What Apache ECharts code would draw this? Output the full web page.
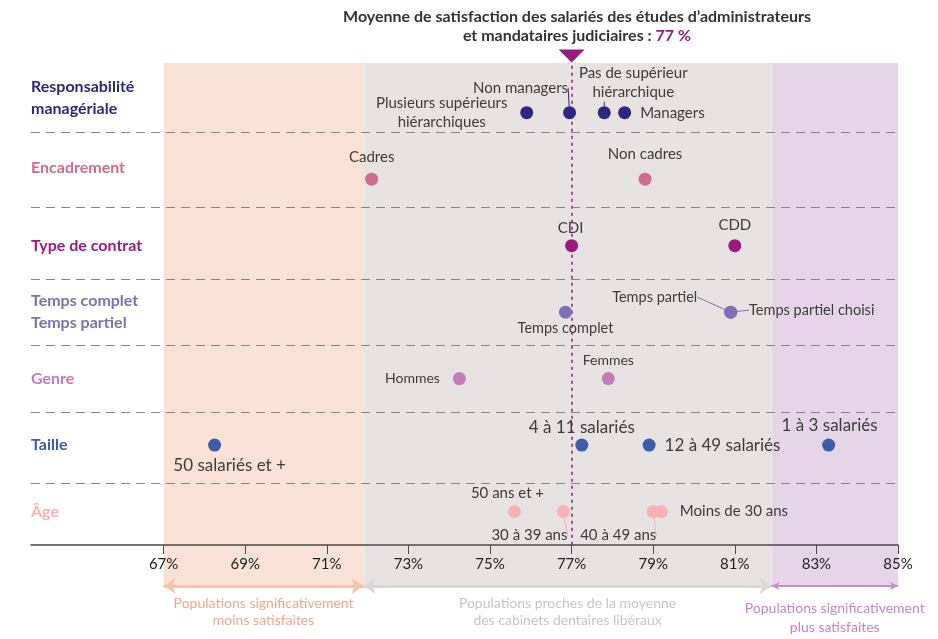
<!DOCTYPE html>
<html lang="fr">
<head>
<meta charset="UTF-8">
<title>Satisfaction des salariés</title>
<script src="https://cdn.jsdelivr.net/npm/echarts@6/dist/echarts.min.js"></script>
<style>
  body, html { margin: 0; padding: 0; background: #fff; }
  #main { width: 938px; height: 639px; }
</style>
</head>
<body>
<div id="main"></div>
<script>
// rows, top to bottom
const categories = ['Responsabilité\nmanagériale', 'Encadrement', 'Type de contrat', 'Temps complet\nTemps partiel', 'Genre', 'Taille', 'Âge'];

const respNames = ['Plusieurs supérieurs\nhiérarchiques', 'Non managers', 'Pas de supérieur\nhiérarchique', 'Managers'];
const respValues = [75.9, 76.95, 77.8, 78.3];
const encadrementNames = ['Cadres', 'Non cadres'];
const encadrementValues = [72.1, 78.8];
const contratNames = ['CDI', 'CDD'];
const contratValues = [77.0, 81.0];
const tempsNames = ['Temps complet', 'Temps partiel', 'Temps partiel choisi'];
const tempsValues = [76.85, 80.9, 80.9];
const genreNames = ['Hommes', 'Femmes'];
const genreValues = [74.25, 77.9];
const tailleNames = ['50 salariés et +', '4 à 11 salariés', '12 à 49 salariés', '1 à 3 salariés'];
const tailleValues = [68.25, 77.25, 78.9, 83.3];
const ageNames = ['50 ans et +', '30 à 39 ans', '40 à 49 ans', 'Moins de 30 ans'];
const ageValues = [75.6, 76.8, 79.0, 79.2];

const moyenne = 77;
const tickValues = [67, 69, 71, 73, 75, 77, 79, 81, 83, 85];
const zoneBounds = [67, 71.9, 81.9, 85];
const zoneTexts = [
  'Populations significativement\nmoins satisfaites',
  'Populations proches de la moyenne\ndes cabinets dentaires libéraux',
  'Populations significativement\nplus satisfaites'
];
const separatorsY = [6.2, 5.08, 4.0, 3.0, 2.0, 0.93];

// ---- styles ----
const FONT = 'Lato';
const rowColors = ['#2b2783', '#cf6b8b', '#9c1a80', '#7c71b7', '#c27cb8', '#3f5bac', '#f6b2b5'];
const rowFontSize = [15, 15, 15, 14.5, 14, 17, 15];
const zoneFill = ['#fbe2d7', '#e7e3e2', '#e6d5e9'];
const zoneArrow = ['#f8c3ab', '#dcd6d5', '#c98ccd'];
const zoneTextColor = ['#f4a68d', '#cbc4c3', '#c683ca'];
const rowLabelShift = [-15, -11, 0, 0, 0, 0, 0];

const X_MIN = 63.75, X_MAX = 85;
const Y_MIN = -0.635, Y_MAX = 7.248;
const ARROW_Y = -0.62;

// label placement per point (pixels, relative to the dot)
const place = {
  'Plusieurs supérieurs\nhiérarchiques': { dx: -85, dy: 0 },
  'Non managers': { dx: -49, dy: -25, line: true },
  'Pas de supérieur\nhiérarchique': { dx: 0, dy: -30, line: true, padLeft: 58 },
  'Managers': { pos: 'right', d: 9 },
  'Cadres': { dx: 0, dy: -22 },
  'Non cadres': { dx: 0, dy: -25 },
  'CDI': { dx: -1, dy: -18 },
  'CDD': { dx: 0, dy: -21 },
  'Temps complet': { dx: 0, dy: 16 },
  'Temps partiel': { dx: -76, dy: -15, line: true },
  'Temps partiel choisi': { dx: 81, dy: -2, line: true },
  'Hommes': { pos: 'left', d: 13 },
  'Femmes': { dx: 0, dy: -18 },
  '50 salariés et +': { dx: 15, dy: 20 },
  '4 à 11 salariés': { dx: 0, dy: -18 },
  '12 à 49 salariés': { pos: 'right', d: 9 },
  '1 à 3 salariés': { dx: 1, dy: -20 },
  '50 ans et +': { dx: -7, dy: -18 },
  '30 à 39 ans': { dx: -34, dy: 24, line: true },
  '40 à 49 ans': { dx: -35, dy: 24, line: true },
  'Moins de 30 ans': { pos: 'right', d: 12 }
};

const rows = [
  [respNames, respValues],
  [encadrementNames, encadrementValues],
  [contratNames, contratValues],
  [tempsNames, tempsValues],
  [genreNames, genreValues],
  [tailleNames, tailleValues],
  [ageNames, ageValues]
];
const rowY = (i) => categories.length - 0.5 - i;

const pointSeries = rows.map(([names, values], i) => ({
  name: categories[i],
  type: 'scatter',
  symbolSize: 13,
  itemStyle: { color: rowColors[i], opacity: 1 },
  z: 5,
  clip: false,
  emphasis: { disabled: true },
  data: values.map((v, j) => {
    const pl = place[names[j]] || {};
    return {
      name: names[j],
      value: [v, rowY(i)],
      label: {
        show: true,
        position: pl.pos || 'inside',
        distance: pl.d || 5,
        align: pl.pos === 'right' ? 'left' : pl.pos === 'left' ? 'right' : 'center',
        verticalAlign: 'middle',
        padding: pl.padLeft ? [0, 0, 0, pl.padLeft] : 0
      },
      labelLine: { show: !!pl.line, lineStyle: { color: rowColors[i], width: 1 } }
    };
  }),
  label: {
    show: true,
    formatter: '{b}',
    color: '#3c3c3c',
    fontFamily: FONT,
    fontSize: rowFontSize[i],
    lineHeight: 19
  },
  labelLayout: (p) => {
    const pl = place[names[p.dataIndex]] || {};
    return (pl.dx || pl.dy) ? { dx: pl.dx || 0, dy: pl.dy || 0 } : {};
  }
}));

const option = {
  animation: false,
  title: {
    text: '{a|Moyenne de satisfaction des salariés des études d’administrateurs}\n{a|et mandataires judiciaires : }{b|' + moyenne + ' %}',
    left: 572,
    top: 2,
    textAlign: 'center',
    textStyle: {
      rich: {
        a: { fontFamily: FONT, fontWeight: 'bold', fontSize: 16, color: '#333', lineHeight: 19 },
        b: { fontFamily: FONT, fontWeight: 'bold', fontSize: 16, color: '#9c1a80', lineHeight: 19 }
      }
    }
  },
  grid: { left: 31, right: 40, top: 63, bottom: 52 },
  xAxis: {
    type: 'value',
    min: X_MIN,
    max: X_MAX,
    z: 10,
    position: 'bottom',
    offset: -42,
    axisLine: { show: true, onZero: false, lineStyle: { color: '#4a4a4a', width: 1.5 } },
    axisTick: { show: true, customValues: tickValues, length: 9, lineStyle: { color: '#4a4a4a', width: 1 } },
    axisLabel: {
      customValues: tickValues,
      formatter: '{value}%',
      color: '#222',
      fontFamily: FONT,
      fontSize: 15,
      margin: 12
    },
    splitLine: { show: false }
  },
  yAxis: {
    type: 'value',
    min: Y_MIN,
    max: Y_MAX,
    show: false,
    splitLine: { show: false }
  },
  series: [
    {
      name: 'zones',
      type: 'scatter',
      data: [],
      silent: true,
      markArea: {
        silent: true,
        data: zoneFill.map((c, i) => [
          { xAxis: zoneBounds[i], itemStyle: { color: c, opacity: 1 } },
          { xAxis: zoneBounds[i + 1] }
        ])
      },
      markLine: {
        silent: true,
        data: zoneArrow.map((c, i) => [
          {
            coord: [zoneBounds[i], ARROW_Y],
            symbol: 'arrow',
            symbolSize: i === 2 ? [6, 8] : [12, 12],
            lineStyle: { color: c, width: i === 2 ? 2 : 3, type: 'solid' },
            label: {
              show: true,
              formatter: zoneTexts[i],
              position: 'insideMiddleBottom',
              distance: i === 2 ? 13 : 9,
              color: zoneTextColor[i],
              fontFamily: FONT,
              fontSize: 14,
              lineHeight: i === 2 ? 19 : 17,
              align: 'center'
            }
          },
          { coord: [zoneBounds[i + 1], ARROW_Y], symbol: 'arrow', symbolSize: i === 2 ? [6, 8] : [12, 12] }
        ])
      }
    },
    {
      name: 'separateurs',
      type: 'scatter',
      data: [],
      silent: true,
      markLine: {
        silent: true,
        symbol: 'none',
        label: { show: false },
        lineStyle: { color: '#8c8282', width: 1.2, type: [9, 6] },
        data: separatorsY.map((y) => ({ yAxis: y }))
      }
    },
    {
      name: 'moyenne',
      type: 'scatter',
      clip: false,
      z: 4,
      symbol: 'triangle',
      symbolRotate: 180,
      symbolSize: [26, 13],
      symbolOffset: [0, -7],
      itemStyle: { color: '#9c1a80', opacity: 1 },
      emphasis: { disabled: true },
      data: [[moyenne, Y_MAX]],
      markLine: {
        silent: true,
        symbol: 'none',
        label: { show: false },
        lineStyle: { color: '#b4449e', width: 2, type: [3, 4] },
        data: [[{ coord: [moyenne, 0] }, { coord: [moyenne, Y_MAX] }]]
      }
    },
    {
      name: 'lignes',
      type: 'scatter',
      symbolSize: 0,
      clip: false,
      silent: true,
      itemStyle: { opacity: 1 },
      data: categories.map((c, i) => ({
        name: c,
        value: [X_MIN, rowY(i)],
        label: { color: rowColors[i], offset: [0, rowLabelShift[i]] }
      })),
      label: {
        show: true,
        formatter: '{b}',
        position: 'right',
        distance: 0,
        align: 'left',
        verticalAlign: 'middle',
        fontFamily: FONT,
        fontWeight: 'bold',
        fontSize: 16,
        lineHeight: 22
      }
    }
  ].concat(pointSeries)
};

const chart = echarts.init(document.getElementById('main'));
chart.setOption(option);
</script>
</body>
</html>
